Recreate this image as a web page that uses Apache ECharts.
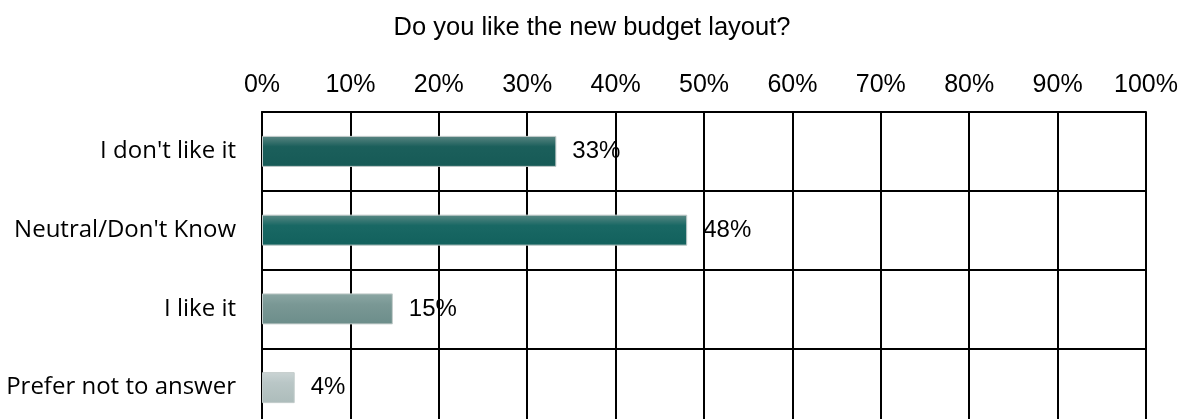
<!DOCTYPE html>
<html>
<head>
<meta charset="utf-8">
<script src="https://cdn.jsdelivr.net/npm/echarts@6/dist/echarts.min.js"></script>
<style>html,body{margin:0;padding:0;background:#fff;overflow:hidden;}#c{width:1184px;height:432px;}</style>
</head>
<body>
<div id="c"></div>
<script>
const title = "Do you like the new budget layout?";
const categories = ["I don't like it", "Neutral/Don't Know", "I like it", "Prefer not to answer"];
const values = [33.3, 48.1, 14.8, 3.7];
const topColors = ["#5b8683", "#5b8985", "#8ca7a4", "#cad4d4"];
const midColors = ["#1b5f5b", "#196864", "#7a9895", "#b9c6c6"];
const bottomColors = ["#165a56", "#12615d", "#6c8d8a", "#adbcbb"];

const chart = echarts.init(document.getElementById('c'));
const font = 'Liberation Sans, Arial, sans-serif';
chart.setOption({
  animation: false,
  title: {text: title, left: 'center', top: 10, textStyle: {fontFamily: font, fontSize: 25.5, fontWeight: 'normal', color: '#000'}},
  grid: {left: 262, right: 38, top: 112, height: 315},
  xAxis: {
    type: 'value', position: 'top', min: 0, max: 100, interval: 10,
    axisLine: {show: true, lineStyle: {color: '#000', width: 2}},
    axisTick: {show: false},
    axisLabel: {formatter: '{value}%', fontFamily: font, fontSize: 25, color: '#000', margin: 14},
    splitLine: {show: true, lineStyle: {color: '#000', width: 2}}
  },
  yAxis: {
    type: 'category', inverse: true, data: categories,
    axisLine: {show: true, lineStyle: {color: '#000', width: 2}},
    axisTick: {show: false},
    axisLabel: {fontFamily: '"Open Sans", sans-serif', fontSize: 24, color: '#000', margin: 26},
    splitLine: {show: true, lineStyle: {color: '#000', width: 2}}
  },
  series: [{
    type: 'bar', barWidth: 31,
    data: values.map((v, i) => ({
      value: v,
      itemStyle: {
        borderColor: '#c3cccb', borderWidth: 1,
        color: new echarts.graphic.LinearGradient(0, 0, 0, 1, [
          {offset: 0, color: topColors[i]},
          {offset: 0.35, color: midColors[i]},
          {offset: 1, color: bottomColors[i]}
        ])
      }
    })),
    label: {show: true, position: 'right', distance: 16, fontFamily: font, fontSize: 24, color: '#000',
      formatter: p => Math.round(p.value) + '%'}
  }]
});
</script>
</body>
</html>
